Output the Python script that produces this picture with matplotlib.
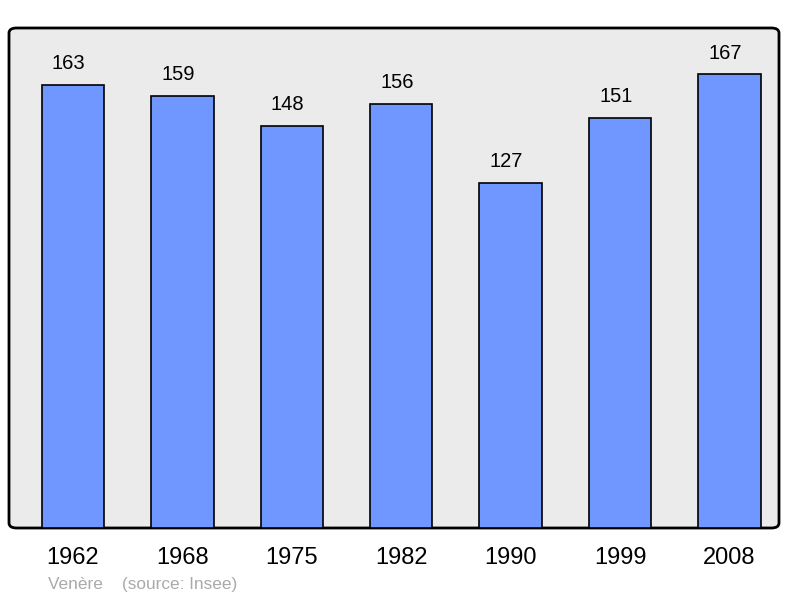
import matplotlib.pyplot as plt
from matplotlib.patches import FancyBboxPatch

years = ['1962', '1968', '1975', '1982', '1990', '1999', '2008']
population = [163, 159, 148, 156, 127, 151, 167]

plt.rcParams['font.family'] = ['Liberation Sans', 'DejaVu Sans']

fig = plt.figure(figsize=(8, 5.98), dpi=100)
W, H = 800, 598
ax = fig.add_axes([9 / W, (H - 528) / H, 770 / W, 500 / H])
ax.set_facecolor('none')

# rounded frame behind the bars
frame = FancyBboxPatch((0, 0), 1, 1,
                       boxstyle='round,pad=0,rounding_size=0.01',
                       transform=ax.transAxes, facecolor='#ebebeb',
                       edgecolor='black', linewidth=2, zorder=0,
                       clip_on=False)
ax.add_patch(frame)

x = range(len(years))
ax.bar(x, population, width=0.57, color='#7097ff', edgecolor='black',
       linewidth=1.2, zorder=2)
for i, v in zip(x, population):
    ax.text(i - 0.04, v + 4.3, str(v), ha='center', va='bottom', fontsize=14.5)

ax.set_xlim(-0.584, 6.452)
ax.set_ylim(0, 184)
for s in ax.spines.values():
    s.set_visible(False)
ax.set_yticks([])
ax.set_xticks(list(x))
ax.set_xticklabels(years, fontsize=17)
ax.tick_params(axis='x', length=0, pad=14)

fig.text(48 / W, 1 - 585 / H, 'Venère    (source: Insee)', fontsize=12.4,
         color='#aaaaaa', va='center')

fig.savefig('out.png', dpi=100)
